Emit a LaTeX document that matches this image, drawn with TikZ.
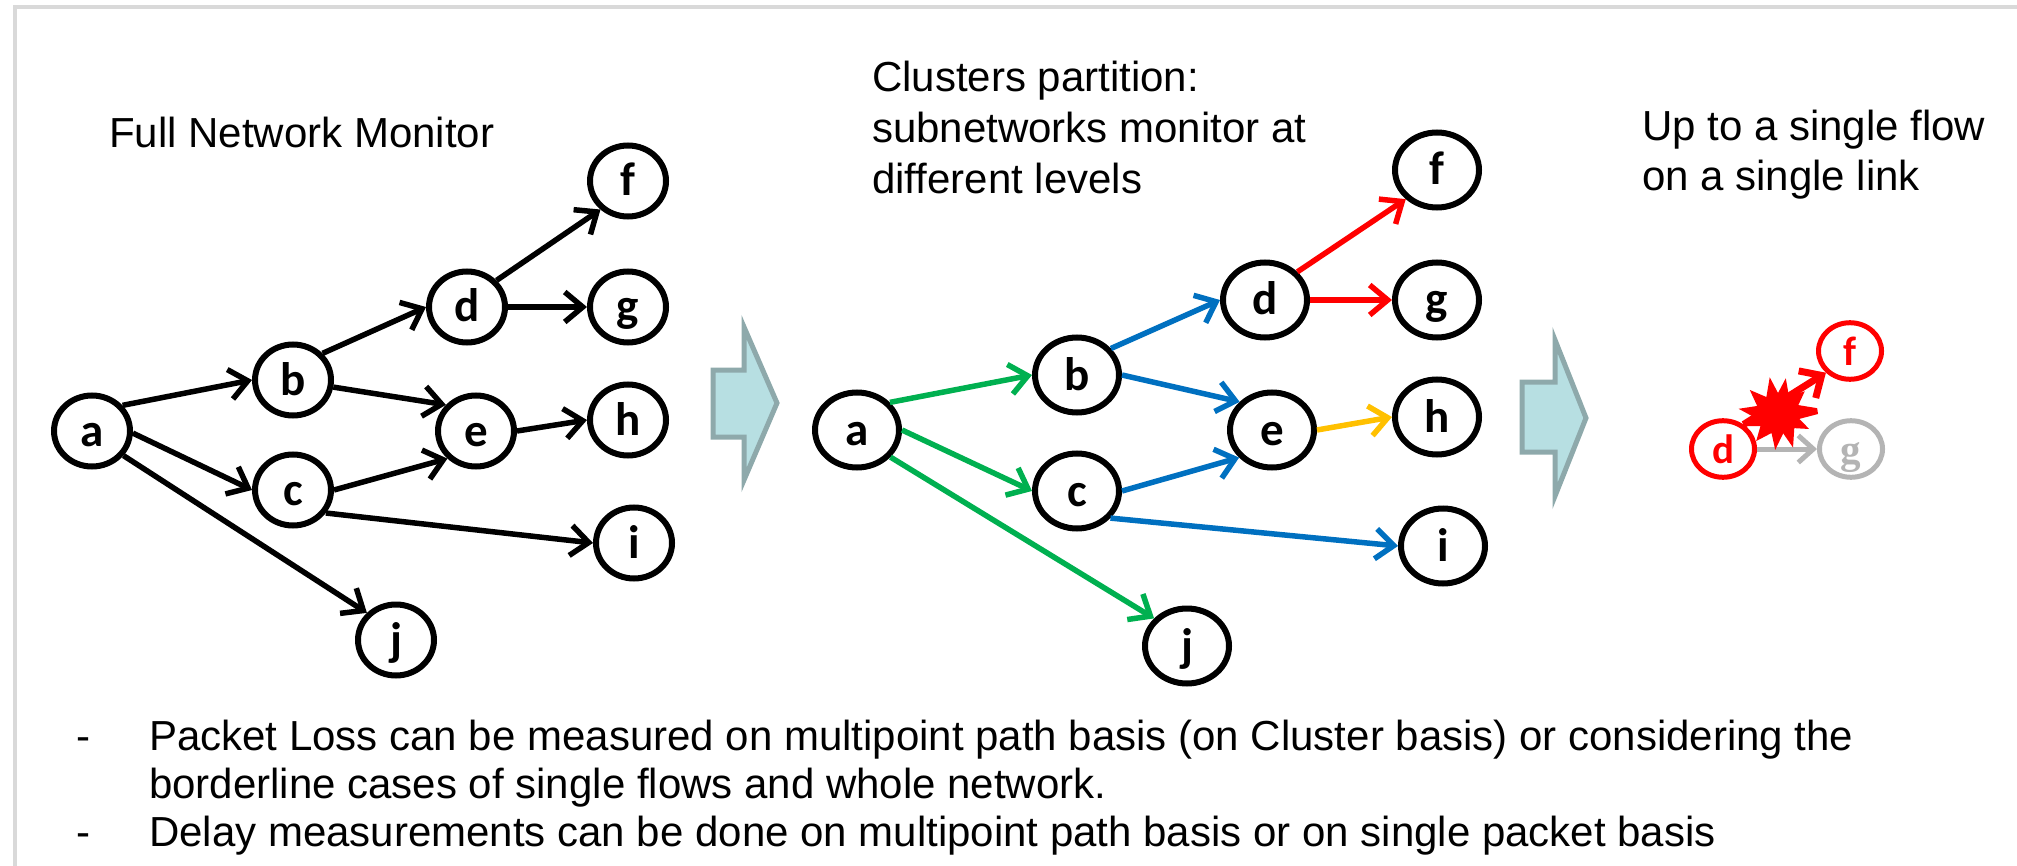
\documentclass[tikz,border=0pt]{standalone}
\usepackage{fontspec}
\setmainfont{Liberation Sans}
\newfontfamily\nodefont{Carlito}
\newfontfamily\serifnode{Liberation Serif}
\usetikzlibrary{arrows.meta,shapes.geometric}
\definecolor{framegray}{HTML}{D9D9D9}
\definecolor{arrowfill}{HTML}{B7DFE2}
\definecolor{arrowedge}{HTML}{8EA9AB}
\definecolor{cgreen}{HTML}{00B050}
\definecolor{cblue}{HTML}{0070C0}
\definecolor{cred}{HTML}{FF0000}
\definecolor{cyellow}{HTML}{FFC000}
\definecolor{cgray}{HTML}{B4B4B4}
\begin{document}
\begin{tikzpicture}[x=1pt,y=-1pt,
  nodeA/.style={ellipse, draw=black, line width=6pt, minimum width=76pt, minimum height=71pt, inner sep=0pt,
    font=\nodefont\bfseries\fontsize{47}{47}\selectfont, text height=40pt, text depth=10pt},
  nodeB/.style={nodeA, minimum width=84pt, minimum height=75pt},
  nodeC/.style={ellipse, draw=cred, text=cred, line width=5pt, minimum width=63pt, minimum height=56pt, inner sep=0pt,
    font=\nodefont\bfseries\fontsize{41}{41}\selectfont, text height=34pt, text depth=6pt},
  link/.style={line width=5.5pt, -{Straight Barb[length=18pt,width=30pt]}},
  lbl/.style={font=\fontsize{42}{50}\selectfont, anchor=base west, inner sep=0pt},
  blockarrow/.style={fill=arrowfill, draw=arrowedge, line width=5pt, line join=miter}
]
\useasboundingbox (0,0) rectangle (2017,866);
% frame
\draw[framegray, line width=4pt] (15,900) -- (15,7) -- (2040,7);

% ---------- panel 1 ----------
\node[lbl] (t1) at (109,148) {Full Network Monitor};
\node[nodeA] (a1) at (92,431) {a};
\node[nodeA] (b1) at (293,380) {b};
\node[nodeA] (c1) at (293,490) {c};
\node[nodeA] (d1) at (467,307) {d};
\node[nodeA] (e1) at (476,431) {e};
\node[nodeA] (f1) at (628,181) {f};
\node[nodeA] (g1) at (628,307) {g};
\node[nodeA] (h1) at (628,420) {h};
\node[nodeA] (i1) at (634,543) {i};
\node[nodeA] (j1) at (396,640) {j};
\draw[link] (a1.40) -- (b1.west);
\draw[link] (a1.-3) -- (c1.west);
\draw[link] (a1.-38) -- (j1.137);
\draw[link] (b1.42) -- (d1.west);
\draw[link] (b1.-10) -- (e1.139);
\draw[link] (c1.east) -- (e1.224);
\draw[link] (c1.-35) -- (i1.west);
\draw[link] (d1.42) -- (f1.226);
\draw[link] (d1.east) -- (g1.west);
\draw[link] (e1.east) -- (h1.west);

% block arrow 1
\draw[blockarrow] (713,370) -- (744,370) -- (744,327) -- (777,403) -- (744,480) -- (744,437) -- (713,437) -- cycle;

% ---------- panel 2 ----------
\node[lbl] (t2a) at (872,92) {Clusters partition:};
\node[lbl] (t2b) at (872,143) {subnetworks monitor at};
\node[lbl] (t2c) at (872,194) {different levels};
\node[nodeB] (a2) at (857,430) {a};
\node[nodeB] (b2) at (1077,375) {b};
\node[nodeB] (c2) at (1077,491) {c};
\node[nodeB] (d2) at (1265,300) {d};
\node[nodeB] (e2) at (1272,430) {e};
\node[nodeB] (f2) at (1437,170) {f};
\node[nodeB] (g2) at (1437,300) {g};
\node[nodeB] (h2) at (1437,417) {h};
\node[nodeB] (i2) at (1443,546) {i};
\node[nodeB] (j2) at (1187,646) {j};
\draw[link, cgreen] (a2.40) -- (b2.west);
\draw[link, cgreen] (a2.east) -- (c2.west);
\draw[link, cgreen] (a2.-39) -- (j2.140);
\draw[link, cblue] (b2.38) -- (d2.west);
\draw[link, cblue] (b2.east) -- (e2.139);
\draw[link, cblue] (c2.east) -- (e2.220);
\draw[link, cblue] (c2.-39) -- (i2.west);
\draw[link, cred] (d2.41) -- (f2.223);
\draw[link, cred] (d2.east) -- (g2.west);
\draw[link, cyellow] (e2.east) -- (h2.west);

% block arrow 2
\draw[blockarrow] (1522,382) -- (1555,382) -- (1555,340) -- (1586,418) -- (1555,496) -- (1555,452) -- (1522,452) -- cycle;

% ---------- panel 3 ----------
\node[lbl] (t3a) at (1642,141) {Up to a single flow};
\node[lbl] (t3b) at (1642,191) {on a single link};
\node[nodeC] (d3) at (1723,449) {d};
\node[nodeC] (f3) at (1850,351) {f};
\node[nodeC, draw=cgray, text=cgray, font=\serifnode\bfseries\fontsize{41}{41}\selectfont] (g3) at (1851,449) {g};
\draw[line width=5pt, cgray, -{Straight Barb[length=15pt,width=27pt]}] (d3.east) -- (g3.west);
\draw[line width=7pt, cred, -{Straight Barb[length=17pt,width=32pt]}] (d3.50) -- (f3.222);
\coordinate (burst) at (1778,414);
\fill[cred, shift={(burst)}]
  (0:40 and 32) -- (15:22 and 19) -- (30:36 and 30) -- (45:23 and 20) -- (62:32 and 38) -- (75:20 and 20)
  -- (95:32 and 36) -- (108:21 and 20) -- (125:38 and 33) -- (140:23 and 19) -- (158:42 and 32) -- (170:24 and 19)
  -- (190:40 and 30) -- (205:23 and 19) -- (222:38 and 36) -- (238:22 and 20) -- (255:32 and 38) -- (270:20 and 21)
  -- (285:30 and 37) -- (300:22 and 20) -- (318:36 and 34) -- (332:23 and 19) -- (348:40 and 28) -- cycle;

% ---------- bottom text ----------
\node[lbl] (l1d) at (76,750) {-};
\node[lbl] (l1) at (149,750) {Packet Loss can be measured on multipoint path basis (on Cluster basis) or considering the};
\node[lbl] (l2) at (149,798) {borderline cases of single flows and whole network.};
\node[lbl] (l3d) at (76,846) {-};
\node[lbl] (l3) at (149,846) {Delay measurements can be done on multipoint path basis or on single packet basis};
\end{tikzpicture}
\end{document}
